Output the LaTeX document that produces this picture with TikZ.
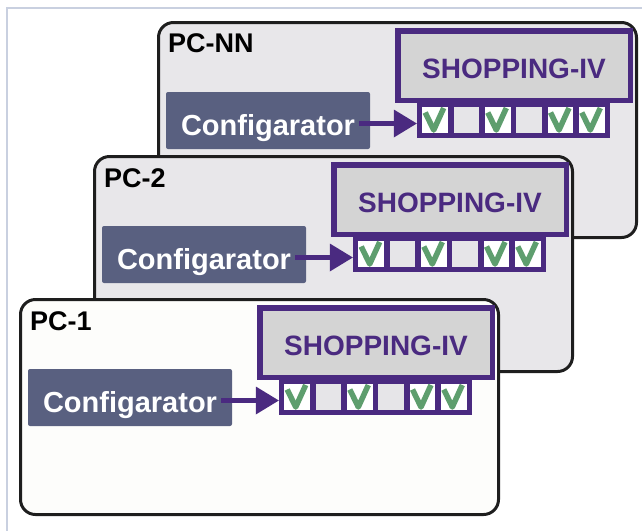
\documentclass[tikz,border=0pt]{standalone}
\usepackage{fontspec}
\setmainfont{Liberation Sans}
\definecolor{pcline}{RGB}{30,30,30}
\definecolor{pcgray}{RGB}{232,231,234}
\definecolor{pcwhite}{RGB}{253,253,251}
\definecolor{confblue}{RGB}{89,96,128}
\definecolor{shopgray}{RGB}{212,212,212}
\definecolor{shoppurple}{RGB}{74,42,128}
\definecolor{slotgray}{RGB}{230,229,232}
\definecolor{tickgreen}{RGB}{94,158,110}
\definecolor{pageline}{RGB}{201,208,224}
\begin{document}
\begin{tikzpicture}[x=1pt,y=1pt,
  pcbox/.style={draw=pcline,line width=3pt,rounded corners=15pt,minimum width=478pt,minimum height=215pt,inner sep=0pt},
  pclabel/.style={anchor=base west,inner sep=0pt,font=\fontsize{27}{27}\selectfont\bfseries},
  confbox/.style={fill=confblue,rounded corners=2pt,minimum width=204pt,minimum height=57pt,inner sep=0pt,text=white,text height=30pt,text depth=0pt,font=\fontsize{29}{29}\selectfont\bfseries},
  shopbox/.style={draw=shoppurple,fill=shopgray,line width=5.5pt,minimum width=232.5pt,minimum height=69.5pt,inner sep=0pt,text=shoppurple,text height=25pt,text depth=0pt,font=\fontsize{28}{28}\selectfont\bfseries},
  slot/.style={draw=shoppurple,fill=white,line width=5.5pt,minimum width=31.3pt,minimum height=31.5pt,inner sep=0pt},
  slotoff/.style={slot,fill=slotgray},
  tick/.style={draw=tickgreen,line width=5.5pt,line join=round},
  feed/.style={draw=shoppurple,line width=4.5pt},
  pageline/.style={draw=pageline,line width=2.5pt}]
\useasboundingbox (0,0) rectangle (642,-531);
\draw [pageline] (642,-8) -- (7,-8) -- (7,-531);

\node [pcbox,fill=pcgray] (pcnn) at (397.5,-130) {};
\node [pclabel] (labnn) at (168,-52) {PC-NN};
\node [confbox] (confnn) at (268,-120.5) {Configarator};
\node [shopbox] (shopnn) at (514,-65.5) {SHOPPING-IV};
\node [slot] (nn1) at (435.2,-119.5) {};
\node [slotoff] (nn2) at (466.5,-119.5) {};
\node [slot] (nn3) at (497.8,-119.5) {};
\node [slotoff] (nn4) at (529.2,-119.5) {};
\node [slot] (nn5) at (560.5,-119.5) {};
\node [slot] (nn6) at (591.8,-119.5) {};
\draw [tick] ([shift={(-10,7)}]nn1.center) -- ++(8.5,-17.5) -- ++(10,22);
\draw [tick] ([shift={(-10,7)}]nn3.center) -- ++(8.5,-17.5) -- ++(10,22);
\draw [tick] ([shift={(-10,7)}]nn5.center) -- ++(8.5,-17.5) -- ++(10,22);
\draw [tick] ([shift={(-10,7)}]nn6.center) -- ++(8.5,-17.5) -- ++(10,22);
\coordinate (fnn) at ([xshift=-11pt,yshift=-3pt]confnn.east);
\coordinate (tnn) at (fnn -| nn1.west);
\draw [feed] (fnn) -- ([xshift=-12pt]tnn);
\fill [shoppurple] (tnn) -- ++(-23,14) -- ++(0,-28) -- cycle;

\node [pcbox,fill=pcgray] (pctwo) at (333.5,-264) {};
\node [pclabel] (labtwo) at (104,-187) {PC-2};
\node [confbox] (conftwo) at (204,-254.5) {Configarator};
\node [shopbox] (shoptwo) at (450,-199.5) {SHOPPING-IV};
\node [slot] (two1) at (371.2,-253.5) {};
\node [slotoff] (two2) at (402.5,-253.5) {};
\node [slot] (two3) at (433.8,-253.5) {};
\node [slotoff] (two4) at (465.2,-253.5) {};
\node [slot] (two5) at (496.5,-253.5) {};
\node [slot] (two6) at (527.8,-253.5) {};
\draw [tick] ([shift={(-10,7)}]two1.center) -- ++(8.5,-17.5) -- ++(10,22);
\draw [tick] ([shift={(-10,7)}]two3.center) -- ++(8.5,-17.5) -- ++(10,22);
\draw [tick] ([shift={(-10,7)}]two5.center) -- ++(8.5,-17.5) -- ++(10,22);
\draw [tick] ([shift={(-10,7)}]two6.center) -- ++(8.5,-17.5) -- ++(10,22);
\coordinate (ftwo) at ([xshift=-11pt,yshift=-3pt]conftwo.east);
\coordinate (ttwo) at (ftwo -| two1.west);
\draw [feed] (ftwo) -- ([xshift=-12pt]ttwo);
\fill [shoppurple] (ttwo) -- ++(-23,14) -- ++(0,-28) -- cycle;

\node [pcbox,fill=pcwhite] (pcone) at (259.5,-407) {};
\node [pclabel] (labone) at (30,-330) {PC-1};
\node [confbox] (confone) at (130,-397.5) {Configarator};
\node [shopbox] (shopone) at (376,-342.5) {SHOPPING-IV};
\node [slot] (one1) at (297.2,-396.5) {};
\node [slotoff] (one2) at (328.5,-396.5) {};
\node [slot] (one3) at (359.8,-396.5) {};
\node [slotoff] (one4) at (391.2,-396.5) {};
\node [slot] (one5) at (422.5,-396.5) {};
\node [slot] (one6) at (453.8,-396.5) {};
\draw [tick] ([shift={(-10,7)}]one1.center) -- ++(8.5,-17.5) -- ++(10,22);
\draw [tick] ([shift={(-10,7)}]one3.center) -- ++(8.5,-17.5) -- ++(10,22);
\draw [tick] ([shift={(-10,7)}]one5.center) -- ++(8.5,-17.5) -- ++(10,22);
\draw [tick] ([shift={(-10,7)}]one6.center) -- ++(8.5,-17.5) -- ++(10,22);
\coordinate (fone) at ([xshift=-11pt,yshift=-3pt]confone.east);
\coordinate (tone) at (fone -| one1.west);
\draw [feed] (fone) -- ([xshift=-12pt]tone);
\fill [shoppurple] (tone) -- ++(-23,14) -- ++(0,-28) -- cycle;
\end{tikzpicture}
\end{document}
